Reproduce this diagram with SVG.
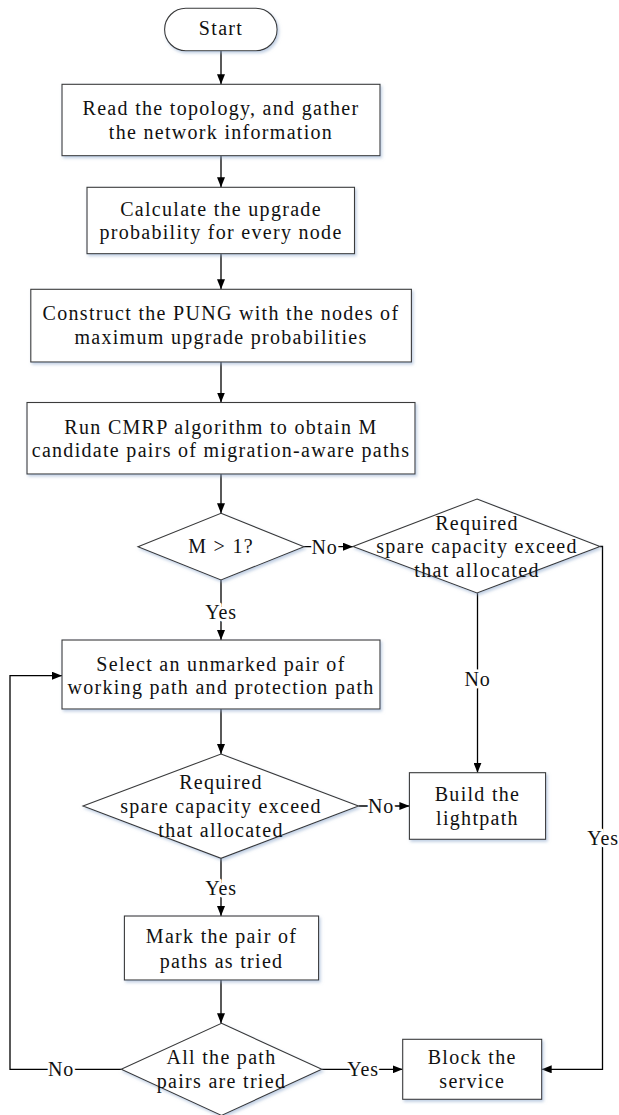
<svg xmlns="http://www.w3.org/2000/svg" width="619" height="1115" viewBox="0 0 619 1115">
<style>
.n{fill:#fff;stroke:#3a3a3a;stroke-width:1.1;filter:url(#sh)}
.t{font-family:"Liberation Serif","Times New Roman",serif;font-size:20px;letter-spacing:1.3px;fill:#111;text-anchor:middle}
.c{fill:none;stroke:#000;stroke-width:1.3}
.l{font-family:"Liberation Serif","Times New Roman",serif;font-size:20px;letter-spacing:0.8px;fill:#111;text-anchor:middle;stroke:#fff;stroke-width:5;paint-order:stroke;stroke-linejoin:round}
</style>
<defs>
<filter id="sh" x="-10%" y="-10%" width="130%" height="140%">
<feDropShadow dx="1.5" dy="2" stdDeviation="1.5" flood-color="#8ea9cc" flood-opacity="0.55"/>
</filter>
<marker id="a" markerUnits="userSpaceOnUse" markerWidth="10" markerHeight="8" refX="10" refY="4" orient="auto">
<path d="M0,0 L10,4 L0,8 z" fill="#000"/>
</marker>
</defs>
<rect width="619" height="1115" fill="#fff"/>
<g id="connectors">
<path class="c" d="M221,50.7 V84.3" marker-end="url(#a)"/>
<path class="c" d="M221,155.7 V187.3" marker-end="url(#a)"/>
<path class="c" d="M221,253.7 V289.3" marker-end="url(#a)"/>
<path class="c" d="M221,362 V402.5" marker-end="url(#a)"/>
<path class="c" d="M221,474 V513.3" marker-end="url(#a)"/>
<path class="c" d="M304,546.7 H353" marker-end="url(#a)"/>
<path class="c" d="M221,580 V640" marker-end="url(#a)"/>
<path class="c" d="M477.5,593 V772.7" marker-end="url(#a)"/>
<path class="c" d="M600,546.5 H602.5 V1069.3 H541.7" marker-end="url(#a)"/>
<path class="c" d="M221,709 V754" marker-end="url(#a)"/>
<path class="c" d="M358.5,806 H409.4" marker-end="url(#a)"/>
<path class="c" d="M221,858.3 V916" marker-end="url(#a)"/>
<path class="c" d="M221,980 V1023.3" marker-end="url(#a)"/>
<path class="c" d="M321.8,1069.3 H402.7" marker-end="url(#a)"/>
<path class="c" d="M121.2,1069.3 H10 V675.7 H62" marker-end="url(#a)"/>
<text class="l" x="324.5" y="554">No</text>
<text class="l" x="221" y="619">Yes</text>
<text class="l" x="477.5" y="686">No</text>
<text class="l" x="603" y="845">Yes</text>
<text class="l" x="381" y="813">No</text>
<text class="l" x="221" y="895">Yes</text>
<text class="l" x="363" y="1076">Yes</text>
<text class="l" x="61" y="1076">No</text>
</g>
<g id="start">
<rect class="n" x="164.6" y="8.3" width="112.5" height="42.4" rx="21.2"/>
<text class="t" x="221" y="35">Start</text>
</g>
<g id="read">
<rect class="n" x="62" y="84.3" width="318" height="71.4"/>
<text class="t" x="221" y="115">Read the topology, and gather</text>
<text class="t" x="221" y="138.5">the network information</text>
</g>
<g id="calc">
<rect class="n" x="87" y="187.3" width="267.5" height="66.4"/>
<text class="t" x="221" y="215.5">Calculate the upgrade</text>
<text class="t" x="221" y="239.3">probability for every node</text>
</g>
<g id="construct">
<rect class="n" x="30.8" y="289.3" width="380.6" height="72.7"/>
<text class="t" x="221" y="320">Construct the PUNG with the nodes of</text>
<text class="t" x="221" y="344">maximum upgrade probabilities</text>
</g>
<g id="run">
<rect class="n" x="27" y="402.5" width="388" height="71.5"/>
<text class="t" x="221" y="433.5">Run CMRP algorithm to obtain M</text>
<text class="t" x="221" y="457">candidate pairs of migration-aware paths</text>
</g>
<g id="d1">
<polygon class="n" points="221,513.3 304,546.7 221,580 138,546.7"/>
<text class="t" x="221" y="552.5">M &gt; 1?</text>
</g>
<g id="d2">
<polygon class="n" points="477,499 600,546.5 477,593 353,546.5"/>
<text class="t" x="477" y="529.5">Required</text>
<text class="t" x="477" y="553">spare capacity exceed</text>
<text class="t" x="477" y="576.5">that allocated</text>
</g>
<g id="select">
<rect class="n" x="62" y="640" width="318" height="69"/>
<text class="t" x="221" y="670.5">Select an unmarked pair of</text>
<text class="t" x="221" y="694">working path and protection path</text>
</g>
<g id="d3">
<polygon class="n" points="221,754 358.5,806 221,858.3 83,806"/>
<text class="t" x="221" y="789.3">Required</text>
<text class="t" x="221" y="813">spare capacity exceed</text>
<text class="t" x="221" y="836.5">that allocated</text>
</g>
<g id="build">
<rect class="n" x="409.4" y="772.7" width="136.2" height="66.6"/>
<text class="t" x="477.5" y="801">Build the</text>
<text class="t" x="477.5" y="824.5">lightpath</text>
</g>
<g id="mark">
<rect class="n" x="124.4" y="916" width="194.2" height="64"/>
<text class="t" x="221.5" y="943.3">Mark the pair of</text>
<text class="t" x="221.5" y="967.5">paths as tried</text>
</g>
<g id="d4">
<polygon class="n" points="221.5,1023.3 321.8,1069.3 221.5,1115.5 121.2,1069.3"/>
<text class="t" x="221.5" y="1064">All the path</text>
<text class="t" x="221.5" y="1088">pairs are tried</text>
</g>
<g id="block">
<rect class="n" x="402.7" y="1039.3" width="139" height="60"/>
<text class="t" x="472.2" y="1064">Block the</text>
<text class="t" x="472.2" y="1088">service</text>
</g>
</svg>
